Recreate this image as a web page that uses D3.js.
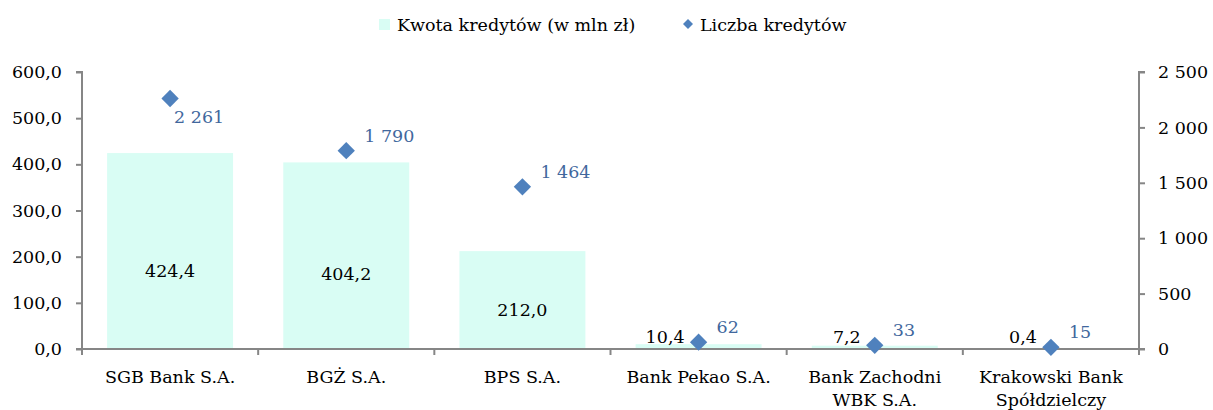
<!DOCTYPE html>
<html><head><meta charset="utf-8">
<script src="https://cdn.jsdelivr.net/npm/d3@7"></script>
<style>
html,body{margin:0;padding:0;background:#fff;}
</style>
</head><body>
<svg id="chart" width="1213" height="410" font-family="'DejaVu Serif', serif"></svg>
<script>
const categories = ["SGB Bank S.A.", "BGŻ S.A.", "BPS S.A.", "Bank Pekao S.A.", "Bank Zachodni\nWBK S.A.", "Krakowski Bank\nSpółdzielczy"];
const amounts = [424.4, 404.2, 212.0, 10.4, 7.2, 0.4];
const counts = [2261, 1790, 1464, 62, 33, 15];
const leftTicks = [0, 100, 200, 300, 400, 500, 600];
const rightTicks = [0, 500, 1000, 1500, 2000, 2500];
const seriesNames = ["Kwota kredytów (w mln zł)", "Liczba kredytów"];

const FONT = "'DejaVu Serif', serif";
const svg = d3.select("#chart");
const m = {left: 82, right: 1139, top: 72, bottom: 349};
const fs = 17.5;
const barColor = "#d9fdf4", dotColor = "#4f81bd", cntColor = "#41679d", axisColor = "#868686";

const x = d3.scaleBand().domain(categories).range([m.left, m.right]).paddingInner(0.285).paddingOuter(0.1425);
const yL = d3.scaleLinear().domain([0, 600]).range([m.bottom, m.top]);
const yR = d3.scaleLinear().domain([0, 2500]).range([m.bottom, m.top]);

const fmt1 = v => d3.format(".1f")(v).replace(".", ",");
const fmtInt = v => d3.format(",")(v).replace(/,/g, " ");

// bars
svg.append("g").selectAll("rect").data(amounts).join("rect")
  .attr("x", (d, i) => x(categories[i]))
  .attr("width", x.bandwidth())
  .attr("y", d => yL(d))
  .attr("height", d => yL(0) - yL(d))
  .attr("fill", barColor);

// axes
const axL = svg.append("g").attr("transform", `translate(${m.left},0)`)
  .call(d3.axisLeft(yL).tickValues(leftTicks).tickFormat(fmt1).tickSize(6).tickPadding(14));
const axR = svg.append("g").attr("transform", `translate(${m.right},0)`)
  .call(d3.axisRight(yR).tickValues(rightTicks).tickFormat(fmtInt).tickSize(6).tickPadding(13));
// bottom axis with ticks at band boundaries
const axB = svg.append("g").attr("transform", `translate(0,${m.bottom})`);
axB.append("line").attr("x1", m.left).attr("x2", m.right).attr("y1", 0).attr("y2", 0).attr("stroke", axisColor).attr("stroke-width", 2);
const bounds = categories.map(c => x(c) - x.step() * x.paddingInner() / 2).concat([m.right]);
axB.selectAll("line.tk").data(bounds).join("line").attr("class", "tk")
  .attr("x1", d => d).attr("x2", d => d).attr("y1", 0).attr("y2", 6)
  .attr("stroke", axisColor).attr("stroke-width", 2);
axB.selectAll("text").data(categories).join("text")
  .attr("text-anchor", "middle")
  .attr("font-family", FONT)
  .attr("font-size", fs).attr("fill", "#000")
  .each(function(d) {
    const lines = d.split("\n");
    d3.select(this).selectAll("tspan").data(lines).join("tspan")
      .attr("x", x(d) + x.bandwidth() / 2)
      .attr("y", (l, j) => 34 + j * 23)
      .text(l => l);
  });

[axL, axR].forEach(a => {
  a.attr("font-family", FONT).attr("font-size", fs);
  a.select(".domain").attr("stroke", axisColor).attr("stroke-width", 2);
  a.selectAll(".tick line").attr("stroke", axisColor).attr("stroke-width", 2);
  a.selectAll(".tick text").attr("font-size", fs).attr("fill", "#000").attr("font-family", FONT);
});
axL.select(".domain").attr("d", `M-6,${m.top}H0V${m.bottom}H-6`);
axR.select(".domain").attr("d", `M6,${m.top}H0V${m.bottom}H6`);

// bar value labels
svg.append("g").selectAll("text").data(amounts).join("text")
  .attr("font-family", FONT)
  .attr("font-size", fs).attr("fill", "#000")
  .attr("text-anchor", d => d > 50 ? "middle" : "end")
  .attr("x", (d, i) => d > 50 ? x(categories[i]) + x.bandwidth() / 2 : x(categories[i]) + x.bandwidth() / 2 - 14)
  .attr("y", d => d > 50 ? yL(d * 0.4) + 6 : yL(0) - 6)
  .text(fmt1);

// diamonds
const sym = d3.symbol().type(d3.symbolSquare).size(150);
svg.append("g").selectAll("path").data(counts).join("path")
  .attr("d", sym)
  .attr("fill", dotColor)
  .attr("transform", (d, i) => `translate(${x(categories[i]) + x.bandwidth() / 2},${yR(d)}) rotate(45)`);

// count labels
svg.append("g").selectAll("text").data(counts).join("text")
  .attr("font-family", FONT)
  .attr("font-size", fs).attr("fill", cntColor)
  .attr("x", (d, i) => x(categories[i]) + x.bandwidth() / 2 + (yR(d) < 110 ? 4 : 18))
  .attr("y", d => yR(d) < 110 ? yR(d) + 25 : yR(d) - 9)
  .text(fmtInt);

// legend
const lg = svg.append("g").attr("font-family", FONT);
lg.append("rect").attr("x", 379).attr("y", 19).attr("width", 11).attr("height", 11).attr("fill", barColor);
lg.append("text").attr("x", 397).attr("y", 31).attr("font-size", fs).text(seriesNames[0]);
lg.append("path").attr("d", d3.symbol().type(d3.symbolSquare).size(50))
  .attr("transform", "translate(688,24) rotate(45)").attr("fill", dotColor);
lg.append("text").attr("x", 700).attr("y", 31).attr("font-size", fs).text(seriesNames[1]);
</script>
</body></html>
